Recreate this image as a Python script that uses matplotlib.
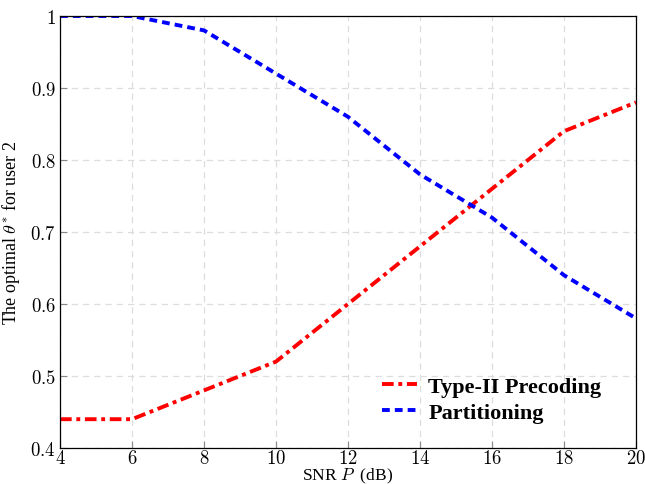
import matplotlib
matplotlib.use('Agg')
import matplotlib.pyplot as plt
from matplotlib.ticker import FixedLocator, FuncFormatter

plt.rcParams['font.family'] = ['Liberation Serif', 'DejaVu Serif']
plt.rcParams['mathtext.fontset'] = 'cm'

snr = [4, 6, 8, 10, 12, 14, 16, 18, 20]
type2 = [0.44, 0.44, 0.48, 0.52, 0.60, 0.68, 0.76, 0.84, 0.88]
partition = [1.00, 1.00, 0.98, 0.92, 0.86, 0.78, 0.72, 0.64, 0.58]

xticks = [4, 6, 8, 10, 12, 14, 16, 18, 20]
yticks = [0.4, 0.5, 0.6, 0.7, 0.8, 0.9, 1.0]

fig = plt.figure(figsize=(6.45, 4.85), dpi=100)
ax = fig.add_axes([60 / 645, 1 - 449 / 485, 576 / 645, 432 / 485])

ax.plot(snr, type2, color='red', linestyle=(0, (3, 1.2, 1, 1.2)), linewidth=2.8,
        label='Type-II Precoding')
ax.plot(snr, partition, color='blue', linestyle=(0, (2, 1.3)), linewidth=2.8,
        label='Partitioning')

ax.set_xlim(4, 20)
ax.set_ylim(0.4, 1.0)
ax.xaxis.set_major_locator(FixedLocator(xticks))
ax.yaxis.set_major_locator(FixedLocator(yticks))
ax.xaxis.set_major_formatter(FuncFormatter(lambda v, p: '$%g$' % v))
ax.yaxis.set_major_formatter(FuncFormatter(lambda v, p: '$%g$' % v))
ax.tick_params(direction='in', length=5, color='#888888', labelsize=13.5, pad=1)
ax.tick_params(axis='y', pad=3)
ax.grid(True, linestyle=(0, (5, 4)), color='#dddddd', linewidth=0.9)
ax.set_axisbelow(True)
for s in ax.spines.values():
    s.set_linewidth(0.9)

ax.set_xlabel('SNR $P$  (dB)', fontsize=12.5, labelpad=-1)
ax.set_ylabel(r'The optimal $\theta^{*}$ for user 2', fontsize=13, labelpad=6)

leg = ax.legend(loc='lower right', frameon=False, prop={'weight': 'bold', 'size': 16},
                handlelength=1.6, handletextpad=0.5, labelspacing=0.25,
                bbox_to_anchor=(0.975, 0.012))

fig.savefig('out.png', dpi=100)
